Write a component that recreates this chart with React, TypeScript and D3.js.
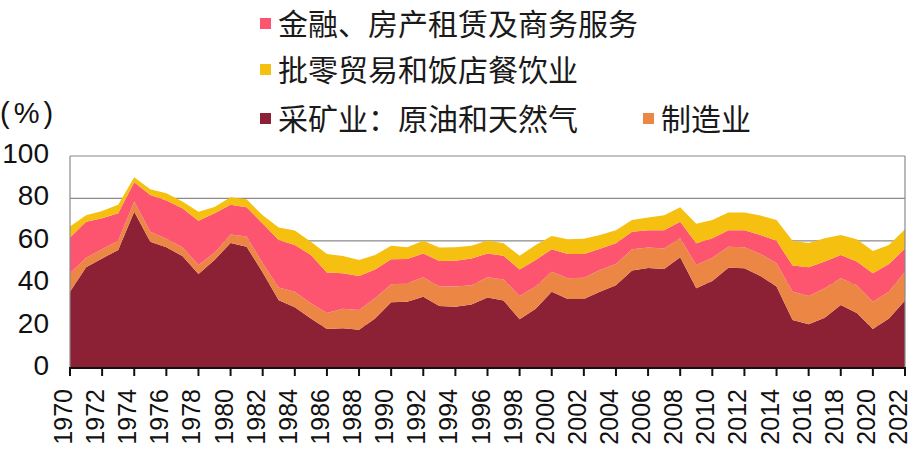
import { useEffect, useRef } from 'react'
import * as d3 from 'd3'

// 1970-2022, share of GDP (%)
const years = d3.range(1970, 2023)

const mining = [
  36, 47.5, 51.7, 55.7, 73.7, 59.6, 57, 52.8, 44.3, 51,
  59, 57.2, 45, 32, 28.6, 23.4, 18.4, 18.7, 18, 23.4,
  31, 31.3, 33.6, 29.2, 28.9, 30, 33.2, 31.8, 23, 28,
  36, 32.5, 32.5, 36, 39, 46, 47.2, 46.7, 52.2, 37.6,
  41, 47.3, 47, 43.4, 38.4, 22.6, 20.6, 23.7, 29.7, 26,
  18.4, 23.4, 31.8,
]
const manufacturing = [
  8.7, 4.5, 4.3, 4.3, 4.8, 4.7, 4, 4.2, 4.3, 3.4,
  4, 4.8, 4.4, 6, 7.4, 7.1, 7.6, 9.3, 9.4, 9.5,
  8.5, 8.7, 9.2, 9.2, 9.5, 9, 9.6, 10, 11, 10.4,
  9.4, 9.8, 10.1, 10.2, 10, 10, 9.6, 9.7, 9, 11,
  11, 9.9, 10, 10.4, 11, 13.4, 13.4, 13.9, 12.6, 13,
  12.9, 12.6, 13.6,
]
const finance = [
  16.9, 17, 14.6, 13, 9.1, 17.3, 18, 18.3, 20.9, 18.6,
  14, 13.8, 18.8, 22.4, 22, 22.8, 19, 16.7, 16, 13.6,
  11.8, 11.4, 11.2, 12.1, 12.2, 12.6, 11.2, 11.2, 12.5, 12.6,
  10.6, 11.5, 11.2, 10.1, 9.8, 8.3, 8.2, 8.6, 7.8, 10.2,
  9.2, 7.8, 8, 8.9, 10.6, 12.3, 13.5, 12.6, 11, 11.2,
  13.4, 13, 11,
]
const retail = [
  5.1, 3, 3.4, 4, 2.4, 2.7, 3.4, 3.2, 4.2, 3,
  3.5, 3.8, 3.8, 5.9, 6.8, 6.3, 8.8, 8.1, 7.6, 6.8,
  6.4, 5.6, 6, 6.3, 6.4, 6.1, 6.2, 5.8, 6.5, 7,
  6.3, 6.9, 7.2, 6.4, 6.2, 5.5, 6, 7, 6.8, 9.2,
  8.6, 8.3, 8.3, 9.2, 9.8, 11.7, 11.5, 11, 9.4, 10.5,
  10.5, 9, 9,
]

const seriesKeys = ['mining', 'manufacturing', 'finance', 'retail']
const seriesColors: Record<string, string> = {
  mining: '#8c2034',
  manufacturing: '#ec8644',
  finance: '#fd556f',
  retail: '#f6c010',
}

const legendRows = [
  [{ key: 'finance', label: '金融、房产租赁及商务服务' }],
  [{ key: 'retail', label: '批零贸易和饭店餐饮业' }],
  [
    { key: 'mining', label: '采矿业：原油和天然气' },
    { key: 'manufacturing', label: '制造业' },
  ],
]

const yTicks = [0, 20, 40, 60, 80, 100]

export default function App() {
  const svgRef = useRef<SVGSVGElement>(null)

  useEffect(() => {
    if (!svgRef.current) return
    const svg = d3.select(svgRef.current)
    svg.selectAll('*').remove()

    const width = 912
    const height = 454
    const left = 70
    const right = 905
    const top = 156
    const bottom = 368
    const latin = '"Liberation Sans", Arial, sans-serif'
    const cjk = '"Noto Sans CJK SC", sans-serif'

    svg.attr('width', width).attr('height', height).attr('viewBox', `0 0 ${width} ${height}`)

    const x = d3.scaleLinear().domain([1970, 2022]).range([left, right])
    const y = d3.scaleLinear().domain([0, 100]).range([bottom, top])

    // gridlines (drawn under the areas)
    svg.append('g')
      .selectAll('line')
      .data(yTicks.filter(d => d > 0))
      .join('line')
      .attr('x1', left).attr('x2', right)
      .attr('y1', d => y(d)).attr('y2', d => y(d))
      .attr('stroke', '#8a8a8a')
      .attr('stroke-width', 1.2)

    const rows = years.map((yr, i) => ({
      year: yr,
      mining: mining[i],
      manufacturing: manufacturing[i],
      finance: finance[i],
      retail: retail[i],
    }))

    const stacked = d3.stack<any>().keys(seriesKeys)(rows)

    const area = d3.area<any>()
      .x(d => x(d.data.year))
      .y0(d => y(d[0]))
      .y1(d => y(d[1]))

    svg.append('g')
      .selectAll('path')
      .data(stacked)
      .join('path')
      .attr('fill', d => seriesColors[d.key])
      .attr('d', area)

    // plot frame: left, right in grey
    svg.append('line')
      .attr('x1', left).attr('x2', left)
      .attr('y1', top).attr('y2', bottom)
      .attr('stroke', '#8a8a8a').attr('stroke-width', 1.2)
    svg.append('line')
      .attr('x1', right).attr('x2', right)
      .attr('y1', top).attr('y2', bottom)
      .attr('stroke', '#8a8a8a').attr('stroke-width', 1.2)

    // x axis
    const xTicks = years.filter(d => d % 2 === 0)
    svg.append('line')
      .attr('x1', left - 1).attr('x2', right + 1)
      .attr('y1', bottom).attr('y2', bottom)
      .attr('stroke', '#111').attr('stroke-width', 2)
    svg.append('g')
      .selectAll('line')
      .data(xTicks)
      .join('line')
      .attr('x1', d => x(d)).attr('x2', d => x(d))
      .attr('y1', bottom).attr('y2', bottom + 8)
      .attr('stroke', '#111').attr('stroke-width', 2)

    svg.append('g')
      .selectAll('text')
      .data(xTicks)
      .join('text')
      .attr('transform', d => `translate(${x(d) + 2},389) rotate(-90)`)
      .attr('text-anchor', 'end')
      .attr('font-family', latin)
      .attr('font-size', 25)
      .attr('fill', '#111')
      .text(d => String(d))

    // y axis labels
    svg.append('g')
      .selectAll('text')
      .data(yTicks)
      .join('text')
      .attr('x', 49)
      .attr('y', d => y(d) - 3)
      .attr('dy', '0.36em')
      .attr('text-anchor', 'end')
      .attr('font-family', latin)
      .attr('font-size', 28)
      .attr('fill', '#111')
      .text(d => String(d))

    svg.append('text')
      .attr('x', 0)
      .attr('y', 123)
      .attr('font-family', latin)
      .attr('font-size', 29)
      .attr('letter-spacing', 4)
      .attr('fill', '#111')
      .text('(%)')

    // legend
    const rowY = [24, 70, 119]
    const itemX = [260, 643]
    legendRows.forEach((row, r) => {
      row.forEach((item, c) => {
        const g = svg.append('g').attr('transform', `translate(${itemX[c]},${rowY[r]})`)
        g.append('rect')
          .attr('x', 0).attr('y', -6)
          .attr('width', 11).attr('height', 11)
          .attr('fill', seriesColors[item.key])
        g.append('text')
          .attr('x', 18)
          .attr('y', 0)
          .attr('dy', '0.36em')
          .attr('font-family', cjk)
          .attr('font-size', 30)
          .attr('fill', '#1a1a1a')
          .text(item.label)
      })
    })
  }, [])

  return (
    <div style={{ position: 'absolute', left: 0, top: 0 }}>
      <svg ref={svgRef} style={{ display: 'block' }} />
    </div>
  )
}
